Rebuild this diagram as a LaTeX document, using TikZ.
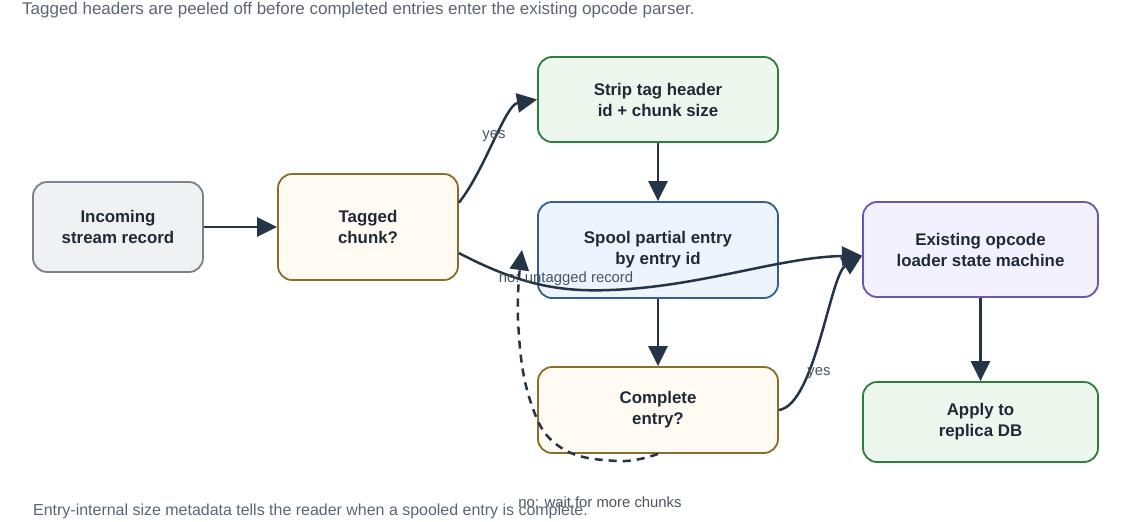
\documentclass[tikz,border=0pt]{standalone}
\usepackage{fontspec}
\setmainfont{Liberation Sans}
\usetikzlibrary{arrows.meta}
\definecolor{edge}{HTML}{253447}
\definecolor{ink}{HTML}{1F2937}
\definecolor{note}{HTML}{5B6575}
\definecolor{lbl}{HTML}{4B5563}
\definecolor{grayfill}{HTML}{EFF1F3}
\definecolor{graydraw}{HTML}{7A828E}
\definecolor{goldfill}{HTML}{FFFBF2}
\definecolor{golddraw}{HTML}{8A6D2B}
\definecolor{greenfill}{HTML}{EDF7EE}
\definecolor{greendraw}{HTML}{2E7D3E}
\definecolor{bluefill}{HTML}{EEF4FD}
\definecolor{bluedraw}{HTML}{2F5F9A}
\definecolor{violetfill}{HTML}{F3F1FD}
\definecolor{violetdraw}{HTML}{6A55B0}
\tikzset{
  box/.style={rounded corners=14pt, line width=1.8pt, align=center, inner sep=0pt,
    text=ink, font=\bfseries\fontsize{16.8}{20.9}\selectfont},
  flow/.style={-{Triangle[length=20pt,width=19pt]}, line width=2.5pt, draw=edge},
  lab/.style={text=lbl, font=\fontsize{14.8}{17}\selectfont},
  caption/.style={text=note, anchor=west, inner sep=0pt}
}
\begin{document}
\begin{tikzpicture}
\useasboundingbox (0,0) rectangle (39.655,-18.27);
\node [caption, font=\fontsize{16.9}{19}\selectfont] (top) at (0.77,-0.35) {Tagged headers are peeled off before completed entries enter the existing opcode parser.};

\node [box, fill=grayfill, draw=graydraw, minimum width=5.95cm, minimum height=3.15cm] (inc) at (4.13,-7.945) {Incoming\\stream record};
\node [box, fill=goldfill, draw=golddraw, minimum width=6.3cm, minimum height=3.71cm] (tag) at (12.88,-7.945) {Tagged\\chunk?};
\node [box, fill=greenfill, draw=greendraw, minimum width=8.4cm, minimum height=2.975cm] (strip) at (23.03,-3.4825) {Strip tag header\\id + chunk size};
\node [box, fill=bluefill, draw=bluedraw, minimum width=8.4cm, minimum height=3.36cm] (spool) at (23.03,-8.75) {Spool partial entry\\by entry id};
\node [box, fill=violetfill, draw=violetdraw, minimum width=8.225cm, minimum height=3.325cm] (exist) at (34.3175,-8.7325) {Existing opcode\\loader state machine};
\node [box, fill=goldfill, draw=golddraw, minimum width=8.4cm, minimum height=3.01cm] (compl) at (23.03,-14.35) {Complete\\entry?};
\node [box, fill=greenfill, draw=greendraw, minimum width=8.225cm, minimum height=2.8cm] (apply) at (34.3175,-14.77) {Apply to\\replica DB};
\coordinate (loopend) at (18.27,-8.75);

\draw [flow] (inc) -- (tag);
\draw [flow] (tag.15.5) .. controls (16.975,-5.95) and (17.675,-3.675) .. (strip.west);
\node [lab] (yes1) at (17.29,-4.76) {yes};
\draw [flow] (tag.-16.7) .. controls (18.2,-9.975) and (19.6,-10.22) .. (21.35,-10.15) .. controls (24.5,-10.045) and (27.3,-8.995) .. (exist.183);
\node [lab] (no1) at (19.81,-9.765) {no: untagged record};
\draw [flow] (strip) -- (spool);
\draw [flow] (spool) -- (compl);
\draw [flow] (compl.east) .. controls (28.525,-14.175) and (29.05,-9.625) .. (exist.183);
\node [lab] (yes2) at (28.665,-13.055) {yes};
\draw [flow, dashed, dash pattern=on 8pt off 6pt] plot[smooth, tension=.7] coordinates {(compl.south) (21.595,-16.135) (19.6,-15.645) (18.55,-14) (18.13,-11.2) (loopend)};
\node [lab] (no2) at (21,-17.57) {no: wait for more chunks};
\draw [flow] (exist) -- (apply);

\node [caption, font=\fontsize{15.9}{18}\selectfont] (bottom) at (1.155,-17.885) {Entry-internal size metadata tells the reader when a spooled entry is complete.};
\end{tikzpicture}
\end{document}
